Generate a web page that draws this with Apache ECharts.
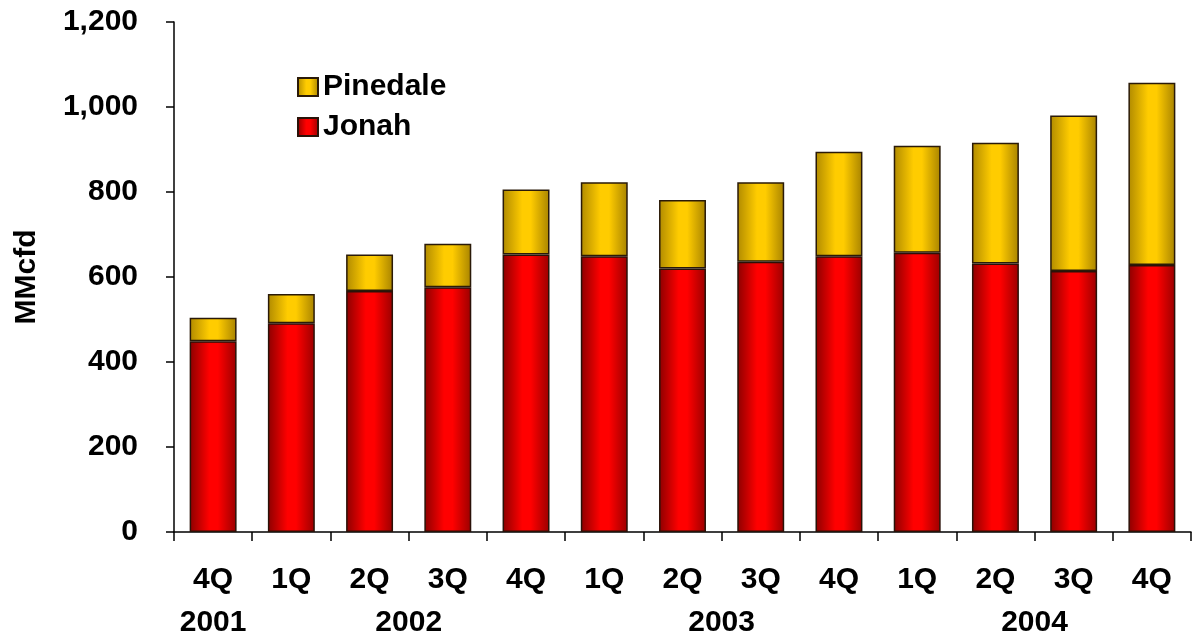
<!DOCTYPE html>
<html>
<head>
<meta charset="utf-8">
<script src="https://cdn.jsdelivr.net/npm/echarts@6/dist/echarts.min.js"></script>
<style>
  html, body { margin: 0; padding: 0; background: #ffffff; }
  #chart { width: 1192px; height: 641px; }
</style>
</head>
<body>
<div id="chart"></div>
<script>
// Quarterly production, MMcfd
var quarters = ['4Q', '1Q', '2Q', '3Q', '4Q', '1Q', '2Q', '3Q', '4Q', '1Q', '2Q', '3Q', '4Q'];
var jonah    = [449, 491, 567, 576, 653, 649, 620, 636, 649, 657, 632, 614, 628];
var pinedale = [55, 69, 86, 102, 153, 174, 161, 187, 246, 252, 284, 366, 429];

// Year captions under the quarter labels, placed at category-index positions
var years         = ['2001', '2002', '2003', '2004'];
var yearPositions = [0, 2.5, 6.5, 10.5];

// Y axis ticks
var yTicks = [0, 200, 400, 600, 800, 1000, 1200];

var FONT = "'Liberation Sans', Arial, sans-serif";

function cylinder(edgeL, mid, edgeR) {
  return new echarts.graphic.LinearGradient(0, 0, 1, 0, [
    { offset: 0, color: edgeL },
    { offset: 0.42, color: mid },
    { offset: 0.6, color: mid },
    { offset: 1, color: edgeR }
  ]);
}

var chart = echarts.init(document.getElementById('chart'), null, { renderer: 'canvas' });

chart.setOption({
  animation: false,
  backgroundColor: '#ffffff',
  textStyle: { fontFamily: FONT, fontWeight: 'bold', color: '#000' },
  grid: { left: 174, right: 1, top: 22, bottom: 109, containLabel: false },
  legend: {
    orient: 'vertical',
    left: 292,
    top: 67,
    itemWidth: 20,
    itemHeight: 18,
    itemGap: 10,
    icon: 'rect',
    data: ['Pinedale', 'Jonah'],
    textStyle: { fontFamily: FONT, fontWeight: 'bold', fontSize: 30, color: '#000' }
  },
  xAxis: [
    {
      type: 'category',
      data: quarters,
      axisLine: { onZero: false, lineStyle: { color: '#000', width: 1.5 } },
      axisTick: { show: true, length: 9, lineStyle: { color: '#000', width: 1.5 } },
      axisLabel: {
        interval: 0, margin: 33,
        fontFamily: FONT, fontWeight: 'bold', fontSize: 30, color: '#000'
      }
    },
    {
      type: 'value',
      position: 'bottom',
      min: -0.5,
      max: 12.5,
      axisLine: { show: false, onZero: false },
      axisTick: { show: false },
      splitLine: { show: false },
      axisLabel: {
        customValues: yearPositions,
        margin: 76,
        formatter: function (v) {
          var i = yearPositions.indexOf(v);
          return i >= 0 ? years[i] : '';
        },
        fontFamily: FONT, fontWeight: 'bold', fontSize: 30, color: '#000'
      }
    }
  ],
  yAxis: {
    type: 'value',
    min: yTicks[0],
    max: yTicks[yTicks.length - 1],
    interval: 200,
    name: 'MMcfd',
    nameLocation: 'middle',
    nameRotate: 90,
    nameGap: 132,
    nameTextStyle: { fontFamily: FONT, fontWeight: 'bold', fontSize: 30, color: '#000' },
    axisLine: { show: true, onZero: false, lineStyle: { color: '#000', width: 1.5 } },
    axisTick: { show: true, length: 8, lineStyle: { color: '#000', width: 1.5 } },
    splitLine: { show: false },
    axisLabel: {
      margin: 36,
      fontFamily: FONT, fontWeight: 'bold', fontSize: 30, color: '#000',
      formatter: function (v) { return v.toLocaleString('en-US'); }
    }
  },
  series: [
    {
      name: 'Jonah',
      type: 'bar',
      stack: 'total',
      barWidth: '60%',
      data: jonah,
      itemStyle: {
        color: cylinder('#8c0000', '#ff0000', '#9a0000'),
        borderColor: '#2a1208',
        borderWidth: 1.5
      }
    },
    {
      name: 'Pinedale',
      type: 'bar',
      stack: 'total',
      barWidth: '60%',
      data: pinedale,
      itemStyle: {
        color: cylinder('#b08a00', '#ffcc00', '#a88300'),
        borderColor: '#2a1a08',
        borderWidth: 1.5
      }
    }
  ]
});
</script>
</body>
</html>
